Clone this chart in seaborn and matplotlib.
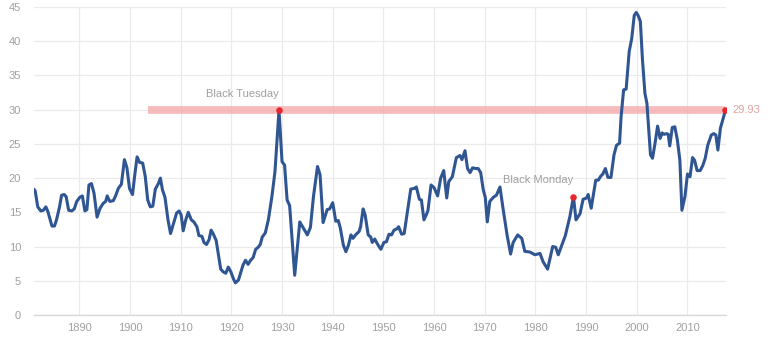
import matplotlib
matplotlib.use("Agg")
import matplotlib.pyplot as plt
import seaborn as sns
import pandas as pd

# Shiller CAPE (decimal year, value)
years = [1881.0, 1881.3, 1881.8, 1882.4, 1882.9, 1883.4, 1883.8, 1884.6, 1885.1, 1885.5,
         1886.1, 1886.5, 1887.0, 1887.4, 1887.9, 1888.5, 1889.0, 1889.5, 1890.1, 1890.6,
         1891.1, 1891.5, 1891.9, 1892.4, 1892.9, 1893.5, 1894.1, 1894.7, 1895.2, 1895.5,
         1896.0, 1896.7, 1897.1, 1897.7, 1898.3, 1898.9, 1899.4, 1899.9, 1900.5, 1900.9,
         1901.4, 1901.9, 1902.5, 1903.0, 1903.5, 1904.0, 1904.5, 1905.0, 1905.6, 1906.0,
         1906.4, 1906.9, 1907.5, 1908.0, 1908.6, 1909.2, 1909.7, 1910.1, 1910.5, 1911.0,
         1911.5, 1912.1, 1912.6, 1913.2, 1913.6, 1914.2, 1914.6, 1915.1, 1915.6, 1916.0,
         1916.4, 1917.0, 1917.4, 1917.9, 1918.4, 1918.9, 1919.4, 1919.9, 1920.4, 1920.8,
         1921.4, 1921.8, 1922.3, 1922.8, 1923.3, 1923.8, 1924.3, 1924.8, 1925.3, 1925.7,
         1926.1, 1926.7, 1927.3, 1928.0, 1928.6, 1929.4, 1930.0, 1930.5, 1931.0, 1931.5,
         1932.5, 1933.5, 1934.2, 1935.0, 1935.6, 1936.2, 1937.0, 1937.5, 1938.1, 1938.9,
         1939.4, 1940.0, 1940.6, 1941.1, 1941.5, 1942.1, 1942.6, 1943.1, 1943.6, 1944.0,
         1944.5, 1945.2, 1945.5, 1946.0, 1946.4, 1947.0, 1947.5, 1947.8, 1948.3, 1948.8,
         1949.5, 1950.1, 1950.6, 1951.1, 1951.6, 1952.1, 1952.7, 1953.0, 1953.6, 1954.1,
         1954.6, 1955.4, 1956.1, 1956.5, 1957.1, 1957.5, 1958.0, 1958.5, 1958.8, 1959.4,
         1960.0, 1960.7, 1961.3, 1961.9, 1962.5, 1962.9, 1963.6, 1964.4, 1965.1, 1965.5,
         1966.1, 1966.6, 1967.1, 1967.6, 1968.2, 1968.7, 1969.2, 1969.7, 1970.1, 1970.5,
         1971.0, 1971.7, 1972.3, 1973.0, 1973.6, 1974.4, 1975.1, 1975.6, 1976.5, 1977.3,
         1977.9, 1978.9, 1979.9, 1980.9, 1981.5, 1982.4, 1983.4, 1984.0, 1984.5, 1985.2,
         1985.9, 1986.8, 1987.5, 1988.0, 1988.8, 1989.4, 1990.1, 1990.4, 1991.0, 1991.9,
         1992.4, 1992.9, 1993.3, 1993.8, 1994.3, 1994.9, 1995.5, 1996.0, 1996.6, 1996.9,
         1997.4, 1997.9, 1998.5, 1999.0, 1999.5, 1999.9, 2000.3, 2000.7, 2001.1, 2001.6,
         2002.0, 2002.7, 2003.1, 2003.6, 2004.1, 2004.6, 2005.0, 2005.4, 2005.9, 2006.2,
         2006.5, 2007.0, 2007.5, 2008.0, 2008.5, 2008.9, 2009.5, 2010.0, 2010.5, 2011.0,
         2011.4, 2011.9, 2012.5, 2013.0, 2013.5, 2014.0, 2014.7, 2015.2, 2015.6, 2016.0,
         2016.5, 2017.0, 2017.5]
cape = [18.4, 18.1, 15.8, 15.2, 15.3, 15.8, 15.1, 13.0, 13.0, 13.9,
        15.8, 17.5, 17.6, 17.3, 15.3, 15.2, 15.5, 16.6, 17.2, 17.4,
        15.2, 15.4, 19.0, 19.2, 17.8, 14.3, 15.6, 16.3, 16.6, 17.4,
        16.6, 16.7, 17.3, 18.5, 19.1, 22.7, 21.5, 18.5, 17.6, 20.2,
        23.1, 22.3, 22.2, 20.3, 16.8, 15.8, 15.9, 18.4, 19.2, 20.0,
        18.3, 17.2, 13.9, 11.9, 13.4, 14.9, 15.2, 14.6, 12.3, 13.9,
        15.0, 13.9, 13.6, 12.9, 11.6, 11.5, 10.6, 10.3, 11.0, 12.4,
        11.9, 10.9, 9.0, 6.7, 6.3, 6.1, 7.0, 6.3, 5.3, 4.7,
        5.1, 6.1, 7.3, 8.0, 7.4, 8.0, 8.4, 9.6, 9.9, 10.3,
        11.4, 12.0, 13.9, 17.3, 20.9, 29.9, 22.4, 21.9, 16.8, 16.0,
        5.8, 13.6, 12.7, 11.7, 12.8, 17.3, 21.7, 20.5, 13.5, 15.4,
        15.5, 16.4, 13.7, 13.8, 12.7, 10.2, 9.25, 10.2, 11.7, 11.2,
        11.7, 12.2, 12.9, 15.5, 14.6, 11.7, 11.4, 10.6, 11.1, 10.4,
        9.6, 10.6, 10.7, 11.8, 11.7, 12.4, 12.6, 12.9, 11.8, 11.9,
        14.4, 18.4, 18.5, 18.7, 16.9, 16.8, 13.9, 14.7, 15.3, 19.0,
        18.6, 17.4, 20.0, 21.1, 17.1, 19.5, 20.2, 23.0, 23.3, 22.7,
        24.0, 21.4, 20.8, 21.5, 21.4, 21.4, 20.8, 18.3, 17.2, 13.6,
        16.6, 17.2, 17.5, 18.7, 15.6, 11.7, 8.9, 10.6, 11.7, 11.2,
        9.3, 9.2, 8.8, 9.0, 7.8, 6.7, 10.0, 9.9, 8.8, 10.2,
        11.6, 14.4, 17.3, 13.9, 14.8, 16.9, 17.1, 17.6, 15.6, 19.7,
        19.7, 20.3, 20.6, 21.4, 20.1, 20.1, 23.4, 24.8, 25.1, 29.0,
        32.9, 33.0, 38.5, 40.4, 43.8, 44.2, 43.7, 42.9, 37.5, 32.4,
        30.9, 23.4, 22.9, 25.1, 27.6, 25.8, 26.6, 26.4, 26.5, 26.4,
        24.7, 27.4, 27.5, 25.6, 22.6, 15.3, 17.3, 20.6, 20.2, 23.0,
        22.6, 21.1, 21.1, 21.8, 22.9, 24.8, 26.3, 26.5, 26.3, 24.1,
        27.3, 28.6, 29.93]

event_labels = ["Black Tuesday", "Black Monday"]
event_years = [1929.4, 1987.5]
event_values = [29.9, 17.3]

current_value = 29.93
band_start_year = 1903.5

x_ticks = [1890, 1900, 1910, 1920, 1930, 1940, 1950, 1960, 1970, 1980, 1990, 2000, 2010]
y_ticks = [0, 5, 10, 15, 20, 25, 30, 35, 40, 45]

df = pd.DataFrame({"year": years, "cape": cape})

sns.set_theme(style="white")
plt.rcParams["font.family"] = ["Liberation Sans", "DejaVu Sans"]

fig = plt.figure(figsize=(7.68, 3.45), dpi=100)
ax = fig.add_axes([33.7 / 768, 30 / 345, (726 - 33.7) / 768, (315 - 7) / 345])

line_color = "#2f5592"
red = "#e8242c"
label_gray = "#a0a0a0"

# reference band
ax.hlines(current_value, band_start_year, years[-1], color="#f4a6a6", alpha=0.75,
          linewidth=5.6, zorder=1)

sns.lineplot(data=df, x="year", y="cape", ax=ax, color=line_color, linewidth=2.2,
             zorder=3)

# event markers
for lab, yr, val in zip(event_labels, event_years, event_values):
    ax.scatter([yr], [val], color=red, s=22, zorder=4, linewidths=0)
    ax.annotate(lab, (yr, val), xytext=(0, 8), textcoords="offset points",
                ha="right", va="bottom", fontsize=8, color=label_gray)

ax.scatter([years[-1]], [cape[-1]], color=red, s=22, zorder=4, linewidths=0)
ax.annotate(f"{current_value:.2f}", (years[-1], cape[-1]), xytext=(5, 0),
            textcoords="offset points", ha="left", va="center", fontsize=8,
            color="#e0a3a3", annotation_clip=False)

ax.set_xlim(1881.0, 2017.6)
ax.set_ylim(0, 45)
ax.set_xticks(x_ticks)
ax.set_yticks(y_ticks)
ax.set_xlabel("")
ax.set_ylabel("")
ax.grid(True, color="#ebebeb", linewidth=0.9)
ax.set_axisbelow(True)
for s in ["top", "right", "left"]:
    ax.spines[s].set_visible(False)
ax.spines["bottom"].set_color("#d8d8d8")
ax.spines["bottom"].set_linewidth(1.0)
ax.tick_params(axis="both", colors=label_gray, labelsize=8, length=0, pad=6)
ax.tick_params(axis="y", pad=9)

fig.savefig("out.png", dpi=100)
